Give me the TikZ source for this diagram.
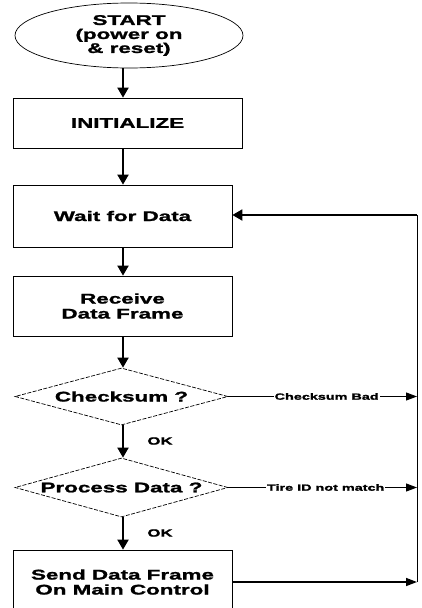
\documentclass[tikz,border=0pt]{standalone}
\usepackage{fontspec}
\newfontfamily\wf{Liberation Sans}[FakeStretch=1.6, BoldFeatures={FakeBold=1.5}]
\usetikzlibrary{shapes.geometric,arrows.meta}
\begin{document}
\begin{tikzpicture}[x=1pt,y=-1pt,
  txt/.style={font=\wf\bfseries\fontsize{14}{15}\selectfont, align=center},
  box/.style={draw, line width=0.7pt, rectangle, inner sep=0pt, txt},
  term/.style={draw, ellipse, line width=0.7pt, inner sep=0pt, minimum width=228pt, minimum height=65pt, font=\wf\bfseries\fontsize{14}{14}\selectfont, align=center},
  dia/.style={draw, diamond, aspect=3.7, inner sep=0pt, dash pattern=on 4pt off 1.5pt, line width=0.7pt, txt},
  arr/.style={line width=1.8pt, -{Triangle[width=11pt,length=10pt]}},
  side/.style={line width=1pt, -{Triangle[width=8pt,length=11pt]}},
  fb/.style={line width=0.8pt},
  lbl/.style={font=\wf\bfseries\fontsize{9}{9}\selectfont, fill=white, inner sep=1pt},
  ok/.style={font=\wf\bfseries\fontsize{10.5}{10.5}\selectfont, inner sep=0pt}]
\clip (0,0) rectangle (422,608);
\fill[white] (0,0) rectangle (422,608);
\node[term] (start) at (129,35.5) {START\\(power on\\\& reset)};
\node[box, minimum width=229pt, minimum height=50pt] (init) at (127.5,123) {INITIALIZE};
\node[box, minimum width=219pt, minimum height=62pt] (wait) at (122.5,216) {Wait for Data};
\node[box, minimum width=219pt, minimum height=60pt] (recv) at (122.5,306) {Receive\\Data Frame};
\node[dia, minimum width=213pt, minimum height=57pt] (chk) at (121.5,396.5) {Checksum ?};
\node[dia, minimum width=213pt, minimum height=59pt] (proc) at (121.5,487.5) {Process Data ?};
\node[box, minimum width=219pt, minimum height=64pt] (send) at (122.5,582) {Send Data Frame\\On Main Control};
\coordinate (ax) at (123,0);
\coordinate (r0) at (417,215);
\coordinate (r1) at (417,396.5);
\coordinate (r2) at (417,487.5);
\coordinate (r3) at (417,582);
\draw[arr] (start.south -| ax) -- (init.north -| ax);
\draw[arr] (init.south -| ax) -- (wait.north -| ax);
\draw[arr] (wait.south -| ax) -- (recv.north -| ax);
\draw[arr] (recv.south -| ax) -- (chk.north -| ax);
\draw[arr] (chk.south -| ax) -- (proc.north -| ax);
\node[ok] (ok1) at (160,441) {OK};
\draw[arr] (proc.south -| ax) -- (send.north -| ax);
\node[ok] (ok2) at (160,533) {OK};
\draw[side] (chk.east) -- node[lbl, xshift=4pt] (l1) {Checksum Bad} (r1);
\draw[side] (proc.east) -- node[lbl, xshift=3pt] (l2) {Tire ID not match} (r2);
\draw[side, line width=1.5pt] (send.east) -- (r3);
\draw[fb] (r3) -- (r0);
\draw[arr] (r0) -- (wait.east |- r0);
\end{tikzpicture}
\end{document}
